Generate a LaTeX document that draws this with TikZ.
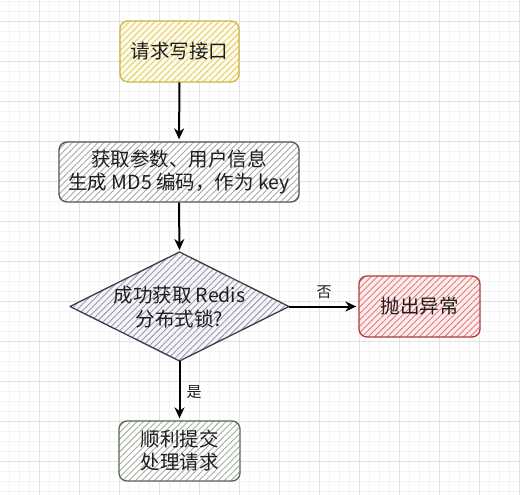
\documentclass[tikz,border=0pt]{standalone}
\usepackage{fontspec}
\setmainfont{Noto Sans CJK SC}
\usetikzlibrary{arrows.meta,patterns.meta}
\definecolor{gridminor}{HTML}{F3F3F3}
\definecolor{gridmajor}{HTML}{E2E2E2}
\definecolor{txt}{HTML}{1E1E1E}
\definecolor{yelHatch}{HTML}{E2CC66}
\definecolor{yelBg}{HTML}{FFFBEA}
\definecolor{yelLine}{HTML}{CDB444}
\definecolor{grayHatch}{HTML}{A9A9A9}
\definecolor{grayLine}{HTML}{4A5560}
\definecolor{diaHatch}{HTML}{9C98A8}
\definecolor{diaBg}{HTML}{F6F3FA}
\definecolor{diaLine}{HTML}{3C3C4A}
\definecolor{redHatch}{HTML}{E47C7C}
\definecolor{redBg}{HTML}{FDEDED}
\definecolor{redLine}{HTML}{B23A3A}
\definecolor{grnHatch}{HTML}{A4AEA0}
\definecolor{grnLine}{HTML}{566850}
\tikzset{
  minorgrid/.style={draw=gridminor, line width=0.6pt},
  majorgrid/.style={draw=gridmajor, line width=0.8pt},
  boxtext/.style={text=txt, align=center, font=\fontsize{19.5}{23}\selectfont},
  hbox/.style n args={3}{rectangle, rounded corners=8pt, line width=1.3pt,
    draw=#3, preaction={fill=#1},
    pattern={Lines[angle=45,distance=4.5pt,line width=0.9pt]}, pattern color=#2,
    boxtext, inner sep=0pt},
  arr/.style={draw=black, line width=2pt, -{Stealth[length=11pt,width=10pt]}, shorten >=2pt},
  lbl/.style={text=txt, font=\fontsize{15}{17}\selectfont, inner sep=0pt}
}
\begin{document}
\begin{tikzpicture}[x=1pt,y=-1pt]
\useasboundingbox (0,0) rectangle (520,495);
\fill[white] (0,0) rectangle (520,495);
\foreach \i in {0,...,52} \draw[minorgrid] ({\i*10-0.5},0) -- ({\i*10-0.5},495);
\foreach \i in {0,...,49} \draw[minorgrid] (0,{\i*10+1}) -- (520,{\i*10+1});
\foreach \i in {0,...,12} \draw[majorgrid] ({\i*40+39.5},0) -- ({\i*40+39.5},495);
\foreach \i in {0,...,11} \draw[majorgrid] (0,{\i*40+21}) -- (520,{\i*40+21});

\node[hbox={yelBg}{yelHatch}{yelLine}, minimum width=119pt, minimum height=61pt] (req) at (179.5,51.5) {请求写接口};
\node[hbox={white}{grayHatch}{grayLine}, minimum width=240pt, minimum height=60pt] (par) at (179,172) {获取参数、用户信息\\生成 MD5 编码，作为 key};

\coordinate (dl) at (70,306.5);
\coordinate (dt) at (179.5,252);
\coordinate (dr) at (289,306.5);
\coordinate (db) at (179.5,361);
\path[line width=1.3pt, draw=diaLine, line join=round, preaction={fill=diaBg},
  pattern={Lines[angle=45,distance=4.5pt,line width=0.9pt]}, pattern color=diaHatch]
  (dl) -- (dt) -- (dr) -- (db) -- cycle;
\node[boxtext, inner sep=0pt, font=\fontsize{19.5}{24}\selectfont] (lock) at (179.5,307) {成功获取 Redis\\分布式锁?};

\node[hbox={redBg}{redHatch}{redLine}, minimum width=121pt, minimum height=61pt] (err) at (419.5,306.5) {抛出异常};
\node[hbox={white}{grnHatch}{grnLine}, minimum width=121pt, minimum height=60pt] (ok) at (179.5,451) {顺利提交\\处理请求};

\draw[arr] (req.south) -- (par.north);
\draw[arr] (par.south) -- (dt);
\draw[arr] (dr) -- (err.west);
\draw[arr] (db) -- (ok.north);

\node[lbl] (no) at (324,292) {否};
\node[lbl] (yes) at (194,392) {是};
\end{tikzpicture}
\end{document}
